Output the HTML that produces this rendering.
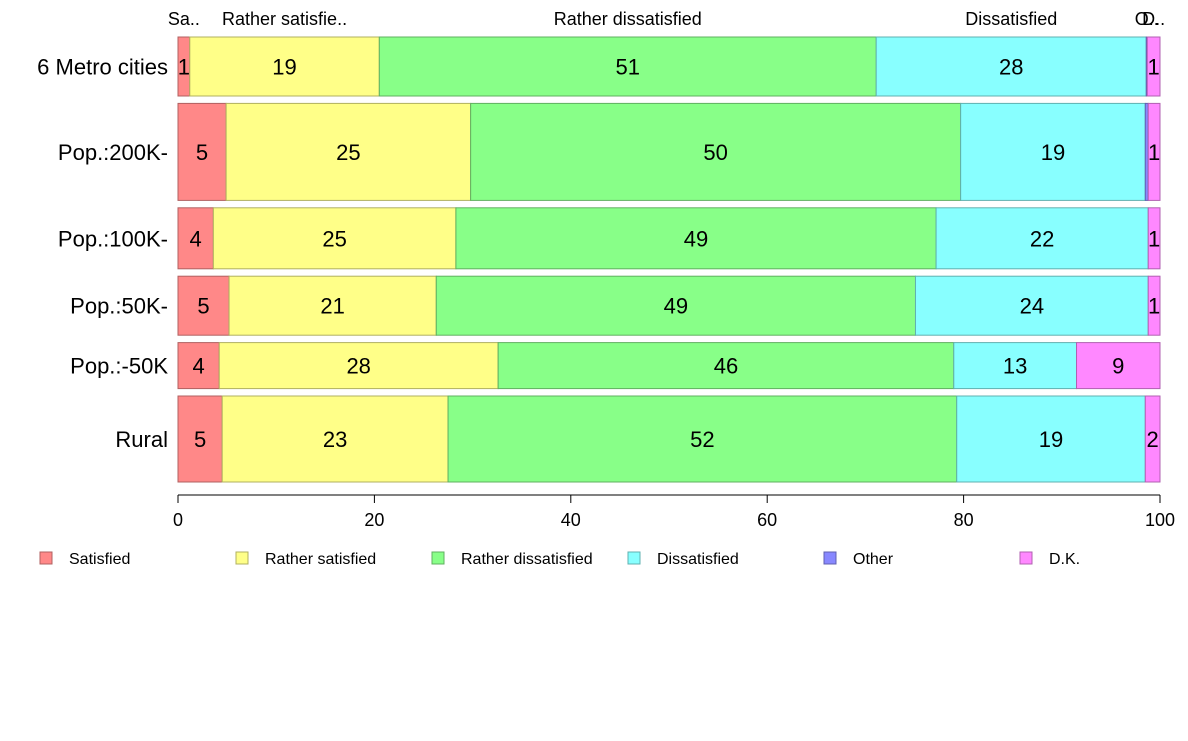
<!DOCTYPE html>
<html><head><meta charset="utf-8"><style>
body{margin:0;background:#fff;font-family:"Liberation Sans",Arial,sans-serif}
</style></head><body>
<svg id="chart" width="1188" height="736" xmlns="http://www.w3.org/2000/svg" font-family="Liberation Sans, Arial, sans-serif"></svg>
<script>
const categories = ["6 Metro cities","Pop.:200K-","Pop.:100K-","Pop.:50K-","Pop.:-50K","Rural"];
const rowWeights = [59,97,61,59,46,86];
const series = ["Satisfied","Rather satisfied","Rather dissatisfied","Dissatisfied","Other","D.K."];
const topLabels = ["Sa..","Rather satisfie..","Rather dissatisfied","Dissatisfied","O..","D.."];
const satisfied = [1.2,4.9,3.6,5.2,4.2,4.5];
const ratherSatisfied = [19.3,24.9,24.7,21.1,28.4,23.0];
const ratherDissatisfied = [50.6,49.9,48.9,48.8,46.4,51.8];
const dissatisfied = [27.5,18.8,21.6,23.7,12.5,19.2];
const other = [0.1,0.3,0.0,0.0,0.0,0.0];
const dk = [1.3,1.2,1.2,1.2,8.5,1.5];
const xTicks = [0,20,40,60,80,100];
const colors = ["#ff8888","#ffff88","#88ff88","#88ffff","#8888ff","#ff88ff"];
const strokes = ["#b06060","#b0b060","#60b060","#60b0b0","#6060b0","#b060b0"];

const svg = document.getElementById('chart');
const NS = "http://www.w3.org/2000/svg";
const X0 = 178, X1 = 1160, Y0 = 37, Y1 = 482, GAP = 7.4;
const xs = v => X0 + (X1 - X0) * v / 100;
const totalW = rowWeights.reduce((a,b)=>a+b,0);
const hUnit = (Y1 - Y0 - GAP*(categories.length-1)) / totalW;
function mk(tag, attrs, text){const e=document.createElementNS(NS,tag);for(const k in attrs)e.setAttribute(k,attrs[k]);if(text!==undefined)e.textContent=text;svg.appendChild(e);return e;}
const data = [satisfied, ratherSatisfied, ratherDissatisfied, dissatisfied, other, dk];

let y = Y0;
categories.forEach((cat, i) => {
  const h = rowWeights[i] * hUnit;
  const t = mk('text',{x:168,y:y+h/2+8,'text-anchor':'end','font-size':22,fill:'#000'},cat);
  
  
  let cum = 0;
  data.forEach((arr, s) => {
    const v = arr[i];
    if (v <= 0) { return; }
    const r = mk('rect',{x:xs(cum),y:y,width:xs(cum+v)-xs(cum),height:h,fill:colors[s],stroke:strokes[s],'stroke-width':1});
    
    
    if (v >= 0.5) {
      const l = mk('text',{x:(xs(cum)+xs(cum+v))/2,y:y+h/2+8,'text-anchor':'middle','font-size':22,fill:'#000'},Math.round(v));
      
      
    }
    if (i === 0) {
      const tl = mk('text',{x:(xs(cum)+xs(cum+v))/2,y:25,'text-anchor':'middle','font-size':18,fill:'#000'},topLabels[s]);
      
      
    }
    cum += v;
  });
  y += h + GAP;
});

const ax = mk('line',{x1:X0,x2:X1,y1:495,y2:495,stroke:'#000','stroke-width':1});


xTicks.forEach(v => {
  const tk = mk('line',{x1:xs(v),x2:xs(v),y1:495,y2:503,stroke:'#000','stroke-width':1});
  
  
  const tl = mk('text',{x:xs(v),y:526,'text-anchor':'middle','font-size':18,fill:'#000'},v);
  
  
});

series.forEach((s, k) => {
  const lx = 40 + k*196;
  const r = mk('rect',{x:lx,y:552,width:12,height:12,fill:colors[k],stroke:strokes[k],'stroke-width':1});
  
  
  const t = mk('text',{x:lx+29,y:564,'font-size':16,fill:'#000'},s);
  
  
});
</script>
</body></html>
